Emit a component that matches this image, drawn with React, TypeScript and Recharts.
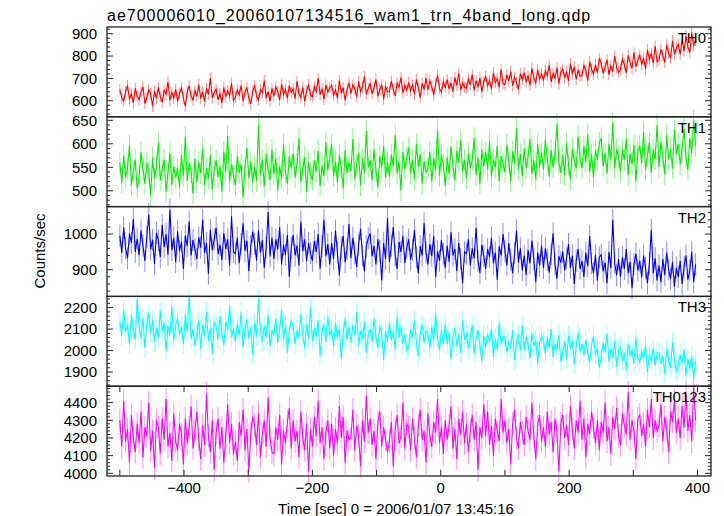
import React from "react";
import { LineChart, Line, XAxis, YAxis, ErrorBar } from "recharts";

// 3 s bins starting at -500 s, one row = 30 s
const T_START = -500;
const T_STEP = 3;

const TH0 = [
  650, 612, 598, 641, 668, 605, 633, 590, 655, 620,
  604, 639, 662, 587, 615, 648, 631, 575, 642, 610,
  660, 618, 593, 646, 629, 684, 601, 637, 612, 652,
  597, 633, 658, 611, 575, 640, 667, 620, 604, 645,
  618, 672, 609, 641, 596, 655, 628, 701, 612, 637,
  652, 604, 631, 589, 660, 617, 645, 622, 678, 600,
  614, 648, 627, 668, 598, 639, 657, 610, 586, 644,
  667, 621, 603, 650, 634, 690, 612, 641, 598, 655,
  620, 662, 641, 603, 675, 628, 650, 611, 668, 637,
  652, 609, 688, 631, 615, 660, 597, 644, 672, 625,
  618, 663, 641, 700, 627, 652, 606, 671, 638, 657,
  669, 625, 648, 612, 690, 634, 658, 601, 647, 680,
  632, 671, 654, 617, 685, 640, 662, 709, 629, 655,
  676, 631, 658, 695, 620, 648, 672, 607, 663, 640,
  640, 688, 651, 622, 679, 660, 705, 634, 668, 647,
  682, 645, 670, 628, 696, 657, 614, 678, 650, 701,
  648, 690, 663, 625, 676, 712, 655, 638, 684, 660,
  695, 652, 681, 640, 705, 668, 723, 647, 679, 660,
  655, 698, 671, 718, 646, 690, 663, 702, 640, 685,
  708, 667, 690, 652, 725, 681, 699, 660, 740, 675,
  672, 716, 688, 731, 666, 705, 683, 650, 721, 694,
  726, 685, 711, 668, 745, 702, 680, 738, 697, 720,
  690, 735, 712, 760, 684, 722, 701, 748, 676, 729,
  742, 701, 730, 688, 765, 719, 752, 695, 738, 710,
  712, 758, 733, 690, 775, 741, 718, 762, 725, 790,
  768, 722, 750, 784, 716, 756, 731, 800, 748, 727,
  740, 787, 762, 725, 803, 770, 745, 815, 752, 779,
  806, 761, 790, 742, 828, 785, 812, 768, 845, 774,
  782, 830, 803, 771, 850, 812, 790, 868, 808, 835,
  852, 808, 875, 822, 890, 840, 815, 905, 848, 870,
];

const TH1 = [
  560, 518, 575, 529, 548, 597, 512, 541, 566, 505,
  530, 582, 547, 515, 559, 538, 490, 571, 526, 553,
  602, 522, 545, 566, 498, 538, 580, 513, 551, 528,
  547, 508, 576, 532, 615, 521, 559, 540, 494, 568,
  518, 561, 537, 590, 512, 548, 526, 575, 503, 544,
  565, 529, 552, 498, 583, 541, 617, 520, 557, 534,
  512, 574, 538, 556, 486, 549, 591, 527, 562, 518,
  551, 521, 640, 533, 566, 509, 578, 545, 523, 587,
  535, 569, 501, 552, 527, 598, 540, 515, 573, 548,
  580, 528, 557, 612, 519, 546, 572, 497, 561, 535,
  523, 566, 540, 585, 510, 553, 532, 604, 544, 570,
  598, 531, 562, 518, 576, 549, 505, 587, 538, 560,
  541, 610, 525, 556, 580, 512, 568, 539, 627, 550,
  565, 522, 589, 543, 507, 574, 550, 596, 528, 561,
  530, 577, 552, 618, 536, 562, 501, 583, 546, 571,
  592, 538, 566, 524, 600, 551, 578, 515, 563, 540,
  547, 583, 519, 569, 544, 630, 532, 575, 556, 510,
  571, 536, 594, 550, 522, 585, 560, 607, 541, 566,
  527, 579, 548, 565, 612, 534, 570, 515, 588, 552,
  583, 545, 606, 530, 567, 550, 596, 521, 574, 559,
  539, 598, 562, 520, 584, 557, 633, 545, 578, 531,
  590, 548, 573, 610, 536, 565, 524, 600, 552, 581,
  545, 609, 568, 530, 587, 551, 576, 642, 560, 538,
  576, 533, 601, 555, 524, 590, 563, 548, 615, 570,
  548, 595, 561, 620, 540, 577, 528, 586, 566, 603,
  612, 553, 580, 537, 600, 565, 645, 548, 589, 571,
  540, 587, 566, 611, 533, 579, 556, 598, 520, 583,
  596, 559, 625, 545, 574, 603, 538, 588, 567, 640,
  551, 604, 572, 535, 618, 566, 590, 547, 630, 578,
  600, 556, 588, 632, 570, 545, 612, 580, 650, 595,
];

const TH2 = [
  995, 948, 1018, 960, 932, 1001, 975, 1042, 950, 987,
  941, 1010, 968, 925, 992, 1055, 957, 984, 916, 1003,
  982, 935, 1026, 963, 1000, 942, 1068, 955, 990, 921,
  1008, 952, 978, 902, 996, 967, 1035, 940, 983, 958,
  930, 991, 962, 1040, 947, 975, 889, 1012, 955, 985,
  1018, 944, 970, 927, 1003, 958, 985, 912, 1050, 950,
  945, 990, 918, 972, 1030, 953, 981, 896, 966, 1007,
  972, 926, 1010, 948, 983, 905, 962, 1062, 937, 990,
  930, 985, 957, 1020, 915, 970, 942, 998, 880, 961,
  998, 940, 968, 912, 1035, 952, 985, 924, 975, 946,
  925, 981, 950, 1000, 903, 966, 1040, 938, 972, 915,
  975, 930, 1010, 948, 884, 962, 995, 921, 958, 1028,
  932, 990, 946, 908, 970, 1015, 940, 895, 965, 988,
  1002, 938, 967, 915, 985, 952, 870, 975, 930, 1045,
  922, 968, 1020, 940, 902, 978, 950, 995, 918, 962,
  985, 928, 955, 1012, 935, 890, 966, 940, 1030, 948,
  915, 972, 938, 995, 880, 952, 925, 983, 945, 905,
  968, 922, 1005, 940, 958, 896, 975, 930, 862, 950,
  945, 985, 912, 960, 932, 1018, 925, 890, 970, 938,
  902, 958, 935, 990, 918, 948, 872, 965, 940, 1000,
  952, 912, 975, 928, 890, 946, 1010, 920, 960, 898,
  940, 885, 955, 918, 982, 930, 865, 948, 912, 968,
  905, 960, 928, 892, 945, 1002, 915, 875, 938, 920,
  950, 898, 932, 972, 905, 940, 860, 925, 958, 902,
  925, 880, 948, 910, 995, 918, 890, 942, 870, 935,
  942, 895, 920, 862, 950, 905, 1040, 918, 885, 930,
  880, 935, 902, 958, 890, 922, 848, 915, 945, 898,
  925, 878, 940, 905, 862, 918, 1012, 890, 932, 870,
  912, 865, 930, 885, 948, 900, 875, 922, 852, 905,
  880, 925, 860, 908, 940, 872, 898, 950, 865, 915,
];

const TH3 = [
  2135, 2068, 2190, 2085, 2120, 2030, 2165, 2095, 2050, 2240,
  2110, 2055, 2150, 2012, 2128, 2175, 2080, 2140, 2040, 2105,
  2060, 2185, 2090, 2130, 1998, 2115, 2070, 2205, 2045, 2120,
  2150, 2075, 2110, 2030, 2168, 2090, 2250, 2055, 2100, 2020,
  2085, 2140, 2010, 2120, 2070, 2180, 2045, 2105, 1985, 2130,
  2115, 2050, 2160, 2080, 2025, 2135, 2095, 2210, 2060, 2100,
  2040, 2125, 2070, 2180, 2015, 2100, 2145, 2055, 2110, 1980,
  2130, 2065, 2240, 2090, 2040, 2115, 2060, 2165, 2020, 2095,
  2070, 2150, 2035, 2100, 2190, 2050, 2120, 1990, 2085, 2140,
  2110, 2030, 2095, 2060, 2170, 2075, 2010, 2125, 2055, 2200,
  2045, 2105, 2065, 2140, 1975, 2090, 2120, 2040, 2160, 2070,
  2095, 2020, 2130, 2060, 2100, 1960, 2085, 2150, 2050, 2110,
  2035, 2120, 2070, 2180, 2025, 2090, 2055, 2135, 1990, 2075,
  2100, 2040, 2150, 2065, 2010, 2115, 2080, 1955, 2090, 2045,
  2130, 2050, 2085, 2005, 2160, 2060, 2110, 2030, 2075, 2000,
  2020, 2095, 2060, 2140, 2040, 1975, 2080, 2120, 2035, 2090,
  2075, 2010, 2110, 2045, 2170, 2060, 2000, 2095, 2030, 2125,
  2030, 2085, 1960, 2060, 2105, 2020, 2075, 1990, 2140, 2050,
  2080, 2010, 2060, 2120, 1985, 2050, 2095, 2030, 1950, 2070,
  2015, 2075, 2040, 2100, 1970, 2055, 2005, 2130, 2025, 2065,
  2060, 1990, 2045, 2010, 2095, 1955, 2040, 2075, 2000, 2115,
  2000, 2065, 2030, 1965, 2080, 2020, 2050, 1940, 2035, 2070,
  2045, 1985, 2060, 2015, 2100, 1970, 2030, 2005, 2075, 1950,
  1990, 2040, 1960, 2070, 2010, 2045, 1935, 2020, 2085, 1995,
  2030, 1975, 2050, 1990, 1945, 2025, 2065, 1980, 2010, 1920,
  1970, 2035, 1995, 2080, 1950, 2010, 1965, 2045, 1925, 2000,
  2015, 1950, 1990, 1910, 2030, 1975, 2005, 1940, 2060, 1965,
  1945, 2000, 1960, 2025, 1900, 1980, 1950, 2010, 1930, 1990,
  1990, 1935, 1975, 1890, 2010, 1955, 1920, 2040, 1960, 1905,
  1930, 1980, 1940, 2005, 1885, 1960, 1915, 1975, 1870, 1950,
];

const TH0123 = [
  4300, 4150, 4410, 4180, 4250, 4060, 4330, 4200, 4120, 4280,
  4170, 4350, 4090, 4260, 4210, 4400, 4130, 4240, 4030, 4300,
  4260, 4110, 4310, 4190, 4420, 4150, 4230, 4070, 4340, 4180,
  4130, 4280, 4220, 4050, 4310, 4170, 4260, 4380, 4140, 4240,
  4350, 4190, 4080, 4270, 4160, 4450, 4210, 4120, 4300, 4020,
  4230, 4310, 4140, 4260, 4060, 4200, 4390, 4170, 4280, 4110,
  4180, 4070, 4290, 4210, 4360, 4130, 4250, 4010, 4230, 4320,
  4270, 4160, 4340, 4090, 4220, 4300, 4150, 4430, 4200, 4120,
  4110, 4260, 4190, 4330, 4050, 4240, 4170, 4290, 4370, 4140,
  4300, 4180, 4240, 4090, 4350, 4200, 4130, 4280, 4010, 4250,
  4150, 4320, 4210, 4410, 4170, 4260, 4080, 4230, 4300, 4140,
  4280, 4100, 4250, 4170, 4380, 4200, 4320, 4060, 4240, 4190,
  4200, 4360, 4130, 4270, 4210, 4040, 4300, 4180, 4440, 4230,
  4310, 4160, 4240, 4080, 4290, 4350, 4150, 4260, 4190, 4120,
  4180, 4290, 4040, 4250, 4330, 4170, 4210, 4400, 4140, 4280,
  4260, 4130, 4310, 4200, 4090, 4270, 4360, 4190, 4240, 4060,
  4340, 4210, 4150, 4290, 4230, 4420, 4170, 4260, 4110, 4300,
  4190, 4270, 4380, 4140, 4250, 4080, 4310, 4220, 4350, 4170,
  4280, 4120, 4240, 4330, 4190, 4290, 4020, 4260, 4200, 4390,
  4210, 4350, 4160, 4270, 4100, 4310, 4240, 4180, 4420, 4230,
  4300, 4170, 4250, 4050, 4280, 4360, 4200, 4140, 4290, 4230,
  4160, 4320, 4240, 4190, 4400, 4210, 4080, 4270, 4330, 4180,
  4260, 4150, 4350, 4220, 4290, 4120, 4310, 4240, 4010, 4280,
  4330, 4200, 4270, 4160, 4380, 4250, 4140, 4300, 4230, 4410,
  4190, 4310, 4090, 4280, 4220, 4350, 4260, 4170, 4300, 4130,
  4290, 4230, 4400, 4180, 4260, 4110, 4320, 4250, 4370, 4210,
  4160, 4340, 4270, 4220, 4460, 4190, 4300, 4240, 4080, 4310,
  4330, 4210, 4280, 4150, 4360, 4260, 4420, 4200, 4300, 4240,
  4270, 4390, 4180, 4320, 4250, 4120, 4350, 4290, 4410, 4230,
  4310, 4200, 4380, 4260, 4450, 4240, 4330, 4180, 4490, 4300,
];

const X_TICKS = [-500, -400, -300, -200, -100, 0, 100, 200, 300, 400];
const X_LABELS = [-400, -200, 0, 200, 400];

const PANELS = [
  { name: "TH0", values: TH0, err: 25, color: "#ff0000", light: "#ff8c8c", domain: [528, 930], major: [600, 700, 800, 900], minor: 20 },
  { name: "TH1", values: TH1, err: 23, color: "#00ee00", light: "#8cf58c", domain: [466, 657], major: [500, 550, 600, 650], minor: 10 },
  { name: "TH2", values: TH2, err: 31, color: "#0000ff", light: "#8c8cff", domain: [824, 1076], major: [900, 1000], minor: 20 },
  { name: "TH3", values: TH3, err: 45, color: "#00ffff", light: "#a0ffff", domain: [1836, 2254], major: [1900, 2000, 2100, 2200], minor: 20 },
  { name: "TH0123", values: TH0123, err: 65, color: "#ff00ff", light: "#ff8cff", domain: [3986, 4494], major: [4000, 4100, 4200, 4300, 4400], minor: 20 },
];

const W = 724;
const H = 516;
const PLOT_L = 107;
const PLOT_R = 711;
const TOP = 27;
const PANEL_H = 89.8;
const PAD = 12;
const FONT = "'Liberation Sans', Arial, sans-serif";
const INK = "#222";

function fmt(v: number) {
  return v < 0 ? "\u2212" + Math.abs(v) : String(v);
}

function Panel({ p, idx }: { p: (typeof PANELS)[number]; idx: number }) {
  const last = idx === PANELS.length - 1;
  const axisH = last ? 30 : 0;
  const data = p.values.map((v, i) => ({ t: T_START + i * T_STEP, v, e: p.err }));
  const ticks: number[] = [];
  for (let v = Math.ceil(p.domain[0] / p.minor) * p.minor; v <= p.domain[1]; v += p.minor) ticks.push(v);

  const yTick = (props: any) => {
    const { x, y, payload } = props;
    const isMajor = p.major.includes(payload.value);
    const len = isMajor ? 6 : 3;
    return (
      <g>
        <line x1={PLOT_L} x2={PLOT_L + len} y1={y} y2={y} stroke={INK} strokeWidth={1} />
        <line x1={PLOT_R - len} x2={PLOT_R} y1={y} y2={y} stroke={INK} strokeWidth={1} />
        {isMajor && (
          <text x={x} y={y} dy="0.36em" textAnchor="end" fontSize={15} fontFamily={FONT} fill="#000">
            {payload.value}
          </text>
        )}
      </g>
    );
  };

  const xTick = (props: any) => {
    const { x, payload } = props;
    const top = PAD;
    const bottom = PAD + PANEL_H;
    return (
      <g>
        <line x1={x} x2={x} y1={top} y2={top + 6} stroke={INK} strokeWidth={1} />
        <line x1={x} x2={x} y1={bottom - 6} y2={bottom} stroke={INK} strokeWidth={1} />
        {last && X_LABELS.includes(payload.value) && (
          <text x={x} y={bottom + 17} textAnchor="middle" fontSize={15} fontFamily={FONT} fill="#000">
            {fmt(payload.value)}
          </text>
        )}
      </g>
    );
  };

  return (
    <div style={{ position: "absolute", left: 0, top: TOP + idx * PANEL_H - PAD }}>
      <LineChart
        width={W}
        height={PANEL_H + 2 * PAD + axisH}
        data={data}
        margin={{ top: PAD, right: W - PLOT_R, bottom: PAD, left: 0 }}
      >
        <XAxis
          type="number"
          dataKey="t"
          domain={[-520, 421]}
          ticks={X_TICKS}
          interval={0}
          height={axisH}
          axisLine={false}
          tickLine={false}
          tickSize={0}
          tick={xTick}
          allowDataOverflow
        />
        <YAxis
          type="number"
          domain={p.domain}
          ticks={ticks}
          interval={0}
          width={PLOT_L}
          axisLine={false}
          tickLine={false}
          tickSize={0}
          tickMargin={10}
          tick={yTick}
          allowDataOverflow
        />
        <Line dataKey="v" stroke="none" dot={false} isAnimationActive={false}>
          <ErrorBar dataKey="e" width={0} stroke={p.light} strokeWidth={1} isAnimationActive={false} />
        </Line>
        <Line dataKey="v" stroke={p.color} strokeWidth={1.1} dot={false} isAnimationActive={false} />
      </LineChart>
    </div>
  );
}

export default function App() {
  return (
    <div style={{ position: "fixed", left: 0, top: 0, width: W, height: H, background: "#fff" }}>
      {PANELS.map((p, i) => (
        <Panel key={p.name} p={p} idx={i} />
      ))}
      <svg width={W} height={H} style={{ position: "absolute", left: 0, top: 0, pointerEvents: "none" }}>
        {PANELS.map((p, i) => (
          <g key={p.name}>
            <rect
              x={PLOT_L}
              y={TOP + i * PANEL_H}
              width={PLOT_R - PLOT_L}
              height={PANEL_H}
              fill="none"
              stroke={INK}
              strokeWidth={1.3}
            />
            <text
              x={706}
              y={TOP + i * PANEL_H + 16}
              textAnchor="end"
              fontSize={15}
              fontFamily={FONT}
              fill="#000"
            >
              {p.name}
            </text>
          </g>
        ))}
        <text x={PLOT_L} y={21} fontSize={16} letterSpacing={1} fontFamily={FONT} fill="#000">
          ae700006010_20060107134516_wam1_trn_4band_long.qdp
        </text>
        <text x={396} y={514} textAnchor="middle" fontSize={15} fontFamily={FONT} fill="#000">
          Time [sec] 0 = 2006/01/07 13:45:16
        </text>
        <text
          x={45}
          y={251}
          transform="rotate(-90 45 251)"
          textAnchor="middle"
          fontSize={15}
          fontFamily={FONT}
          fill="#000"
        >
          Counts/sec
        </text>
      </svg>
    </div>
  );
}
